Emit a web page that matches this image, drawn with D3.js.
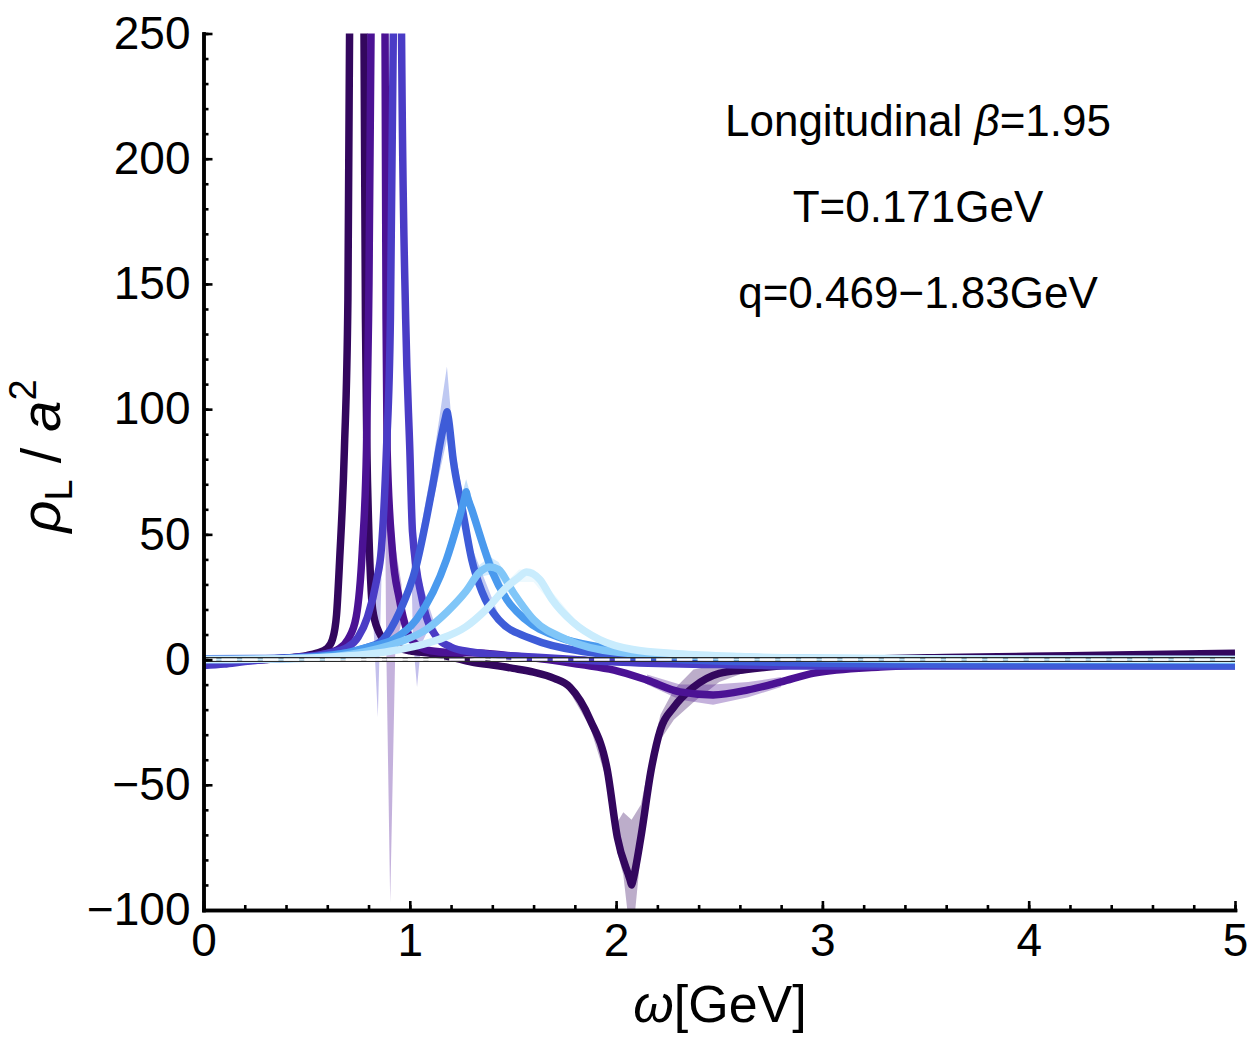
<!DOCTYPE html>
<html>
<head>
<meta charset="utf-8">
<script src="https://cdn.jsdelivr.net/npm/d3@7"></script>
<style>
  body { margin: 0; background: #fff; }
  svg text { font-family: "Liberation Sans", Arial, Helvetica, sans-serif; fill: #000; }
</style>
</head>
<body>
<div id="chart"></div>
<script>
// ---- data: [omega (GeV), rho_L / a^2] ----
const s1 = [[0, -1.2], [0.1, -1.0], [0.2, -0.5], [0.3, 0], [0.4, 0.6], [0.5, 1.6], [0.55, 2.6], [0.6, 4.5], [0.625, 8], [0.645, 18],
  [0.66, 40], [0.683, 84], [0.70, 144], [0.708, 250], [0.715, 420], [0.77, 420], [0.778, 250], [0.785, 136], [0.792, 84],
  [0.80, 55], [0.81, 32], [0.82, 20], [0.85, 11], [0.887, 7], [0.95, 4.5], [1.0, 3.5], [1.1, 2.5], [1.2, 1], [1.3, -1],
  [1.4, -2.2], [1.5, -3.5], [1.6, -5], [1.7, -7.5], [1.776, -11], [1.874, -24], [1.957, -44], [2.006, -71], [2.068, -88],
  [2.075, -90], [2.082, -88], [2.12, -71], [2.17, -44], [2.215, -28], [2.28, -19], [2.375, -11], [2.5, -5.5], [2.63, -4],
  [2.8, -2.5], [3.0, -1.2], [3.3, 0.3], [3.6, 0.8], [4.0, 1.3], [4.5, 1.9], [5.0, 2.5]];
const s2 = [[0, -0.8], [0.2, -0.3], [0.4, 0.5], [0.5, 1.2], [0.6, 2.5], [0.65, 4], [0.7, 8], [0.74, 17], [0.77, 44], [0.79, 84],
  [0.80, 136], [0.812, 250], [0.82, 420], [0.87, 420], [0.88, 250], [0.885, 136], [0.89, 84], [0.915, 44], [0.95, 24], [1.0, 9],
  [1.05, 5], [1.1, 3.5], [1.2, 2.8], [1.34, 2.6], [1.5, 1.4], [1.667, 0], [1.83, -2], [1.99, -4.2], [2.15, -8.2], [2.31, -12.9],
  [2.47, -14.1], [2.64, -12.1], [2.80, -8.9], [2.96, -5.4], [3.28, -3], [3.6, -2], [4.0, -1.3], [4.5, -0.8], [5.0, -0.5]];
const s3 = [[0, -2.4], [0.1, -1.8], [0.2, -0.8], [0.3, 0], [0.4, 0.6], [0.5, 1.2], [0.6, 2.5], [0.7, 5], [0.75, 9], [0.795, 17],
  [0.84, 32], [0.862, 44], [0.887, 84], [0.906, 136], [0.92, 250], [0.93, 420], [0.95, 420], [0.96, 250], [0.98, 136], [1.0, 84],
  [1.013, 51], [1.06, 24], [1.13, 9], [1.2, 5], [1.3, 3], [1.4, 2], [1.6, 1], [1.8, 0], [2.0, -1], [2.5, -2], [3.0, -2.6],
  [4.0, -2.6], [5.0, -2.6]];
const s4 = [[0, 0.3], [0.3, 0.4], [0.5, 1], [0.6, 1.8], [0.71, 3], [0.8, 5], [0.87, 8], [0.95, 19], [1.03, 37], [1.08, 56],
  [1.11, 69], [1.146, 86], [1.174, 97], [1.18, 99], [1.186, 97], [1.21, 80], [1.255, 60], [1.30, 40], [1.35, 27], [1.43, 16],
  [1.6, 8], [1.84, 3.2], [2.08, 1.2], [2.3, 0], [2.6, -0.8], [3.0, -1.5], [4.0, -2.2], [5.0, -2.5]];
const s5 = [[0, 0], [0.3, 0.2], [0.5, 0.8], [0.71, 3], [0.8, 5], [0.92, 8], [1.032, 16], [1.113, 27], [1.178, 40], [1.227, 53],
  [1.267, 65], [1.273, 67], [1.279, 65], [1.30, 60], [1.35, 47], [1.40, 35], [1.47, 24], [1.56, 16], [1.72, 9], [1.92, 5],
  [2.11, 3], [2.4, 1.5], [2.8, 0.5], [3.5, 0], [5.0, -0.3]];
const s6 = [[0, 0], [0.5, 0.5], [0.71, 2], [0.95, 7], [1.08, 12], [1.18, 19], [1.27, 27], [1.34, 35], [1.389, 37], [1.43, 36],
  [1.50, 27], [1.60, 16], [1.76, 8], [2.0, 3], [2.3, 1.5], [2.8, 0.6], [3.5, 0.2], [5.0, 0]];
const s7 = [[0, 0], [0.5, 0.5], [0.71, 1.5], [0.95, 4], [1.14, 8], [1.27, 13], [1.37, 20], [1.47, 29], [1.53, 33], [1.566, 35],
  [1.63, 32], [1.69, 24], [1.79, 15], [1.92, 8], [2.08, 4], [2.3, 2.3], [2.6, 1.2], [3.0, 0.6], [3.5, 0.3], [5.0, 0]];

// error bands: pieces of [omega, low, high]
const s1Bands = [[[1.776, -13, -9], [1.874, -27, -21], [1.957, -49, -40], [2.006, -77, -65], [2.035, -86, -61], [2.075, -115, -64],
  [2.12, -77, -58], [2.17, -48, -38], [2.215, -32, -22], [2.28, -24, -12], [2.375, -17, -4], [2.5, -9, -2], [2.63, -5, -2.5]]];
const s2Bands = [[[0.86, 300, 420], [0.885, 10, 150], [0.905, -97, 70], [0.93, 5, 45], [0.96, 15, 30]],
  [[2.15, -10, -6], [2.31, -16, -10], [2.47, -18, -10], [2.64, -15, -9], [2.80, -11, -7]]];
const s3Bands = [[[0.82, 20, 30], [0.845, -23, 40], [0.862, 30, 55]],
  [[0.98, 120, 150], [1.0, 70, 95], [1.015, 8, 60], [1.035, -11, 45], [1.055, 6, 32], [1.09, 12, 22], [1.13, 6, 12]]];
const s4Bands = [[[1.03, 33, 42], [1.11, 62, 78], [1.18, 88, 117], [1.21, 72, 88], [1.30, 36, 45], [1.43, 14, 18]]];
const s5Bands = [[[1.178, 37, 44], [1.227, 49, 58], [1.273, 62, 72], [1.35, 44, 50], [1.47, 22, 26]]];
const s6Bands = [[[1.27, 25, 29], [1.34, 33, 38], [1.389, 34, 41], [1.43, 33, 39], [1.5, 25, 29]]];
const s7Bands = [[[1.47, 27, 31], [1.53, 31, 36], [1.6, 31, 36], [1.69, 22, 27], [1.79, 14, 17]]];

const seriesColors = ["#33075e", "#4b1294", "#4a3cc6", "#3e5cd8", "#4a9aee", "#80c6f8", "#c9ecfd"];
const xTicks = [0, 1, 2, 3, 4, 5];
const yTicks = [-100, -50, 0, 50, 100, 150, 200, 250];
const annotation = ["T=0.171GeV", "q=0.469\u22121.83GeV"];

const allSeries = [s1, s2, s3, s4, s5, s6, s7];
const allBands = [s1Bands, s2Bands, s3Bands, s4Bands, s5Bands, s6Bands, s7Bands];

// ---- chart ----
const svg = d3.select("#chart")
    .append("svg")
    .attr("width", 1250)
    .attr("height", 1042);

const x = d3.scaleLinear().domain([0, 5]).range([203.5, 1235]);
const y = d3.scaleLinear().domain([-100, 250]).range([910, 33.5]);

svg.append("clipPath")
    .attr("id", "plot-clip")
    .append("rect")
    .attr("x", x(0))
    .attr("y", y(250))
    .attr("width", x(5) - x(0))
    .attr("height", y(-100) - y(250));

const plot = svg.append("g").attr("clip-path", "url(#plot-clip)");

const area = d3.area()
    .x(d => x(d[0]))
    .y0(d => y(d[1]))
    .y1(d => y(d[2]));

const line = d3.line()
    .x(d => x(d[0]))
    .y(d => y(d[1]))
    .curve(d3.curveMonotoneX);

// bands first
allBands.forEach((pieces, i) => {
    pieces.forEach(piece => {
        plot.append("path")
            .attr("d", area(piece))
            .attr("fill", seriesColors[i])
            .attr("fill-opacity", 0.33);
    });
});

// then the lines
allSeries.forEach((s, i) => {
    plot.append("path")
        .attr("d", line(s))
        .attr("fill", "none")
        .attr("stroke", seriesColors[i])
        .attr("stroke-width", 7.5)
        .attr("stroke-linejoin", "miter")
        .attr("stroke-miterlimit", 3);
});

// zero line: thin dark edges with a white dashed core
const y0 = y(0);
[-1.8, 1.8].forEach(off => {
    plot.append("line")
        .attr("x1", x(0)).attr("x2", x(5))
        .attr("y1", y0 + off).attr("y2", y0 + off)
        .attr("stroke", "#2a2a2a")
        .attr("stroke-width", 1.3);
});
plot.append("line")
    .attr("x1", x(0)).attr("x2", x(5))
    .attr("y1", y0).attr("y2", y0)
    .attr("stroke", "#fff")
    .attr("stroke-width", 2.3)
    .attr("stroke-dasharray", "15.5 5.2")
    .attr("stroke-dashoffset", 2.7);

// axes
const fmt = d => d < 0 ? "\u2212" + Math.abs(d) : String(d);

function styleAxis(g) {
    g.attr("font-size", 46)
        .attr("font-family", "'Liberation Sans', Arial, sans-serif");
    g.select(".domain").attr("stroke", "#000").attr("stroke-width", 3.5).attr("stroke-linecap", "square");
    g.selectAll(".tick line").attr("stroke", "#000").attr("stroke-width", 2.6);
    g.selectAll(".tick text").attr("fill", "#000");
}

svg.append("g")
    .attr("transform", `translate(0,${y(-100)})`)
    .call(d3.axisBottom(x).tickValues(d3.range(0, 5.001, 0.2)).tickSize(-5).tickSizeOuter(0).tickFormat(""))
    .call(styleAxis);
svg.append("g")
    .attr("transform", `translate(${x(0)},0)`)
    .call(d3.axisLeft(y).tickValues(d3.range(-100, 251, 10)).tickSize(-5).tickSizeOuter(0).tickFormat(""))
    .call(styleAxis);
svg.append("g")
    .attr("transform", `translate(0,${y(-100)})`)
    .call(d3.axisBottom(x).tickValues(xTicks).tickSize(-9).tickSizeOuter(0).tickPadding(13).tickFormat(fmt))
    .call(styleAxis);
svg.append("g")
    .attr("transform", `translate(${x(0)},0)`)
    .call(d3.axisLeft(y).tickValues(yTicks).tickSize(-9).tickSizeOuter(0).tickPadding(13).tickFormat(fmt))
    .call(styleAxis);

// axis titles
const xTitle = svg.append("text")
    .attr("x", 720)
    .attr("y", 1022)
    .attr("text-anchor", "middle")
    .attr("font-size", 52);
xTitle.append("tspan").attr("font-style", "italic").text("\u03c9");
xTitle.append("tspan").text("[GeV]");

const yTitle = svg.append("text")
    .attr("transform", "translate(60,456) rotate(-90)")
    .attr("text-anchor", "middle")
    .attr("font-size", 56);
yTitle.append("tspan").attr("font-style", "italic").text("\u03c1");
yTitle.append("tspan").attr("font-size", 38).attr("dy", 12).text("L");
yTitle.append("tspan").attr("dy", -12).attr("dx", 16).text("/");
yTitle.append("tspan").attr("font-style", "italic").attr("dx", 16).text("a");
yTitle.append("tspan").attr("font-size", 38).attr("dy", -24).text("2");

// annotation
const title1 = svg.append("text")
    .attr("x", 918)
    .attr("y", 136)
    .attr("text-anchor", "middle")
    .attr("font-size", 44);
title1.append("tspan").text("Longitudinal ");
title1.append("tspan").attr("font-style", "italic").text("\u03b2");
title1.append("tspan").text("=1.95");

svg.selectAll("text.note")
    .data(annotation)
    .enter()
    .append("text")
    .attr("class", "note")
    .attr("x", 918)
    .attr("y", (d, i) => 222 + i * 86)
    .attr("text-anchor", "middle")
    .attr("font-size", 44)
    .text(d => d);
</script>
</body>
</html>
